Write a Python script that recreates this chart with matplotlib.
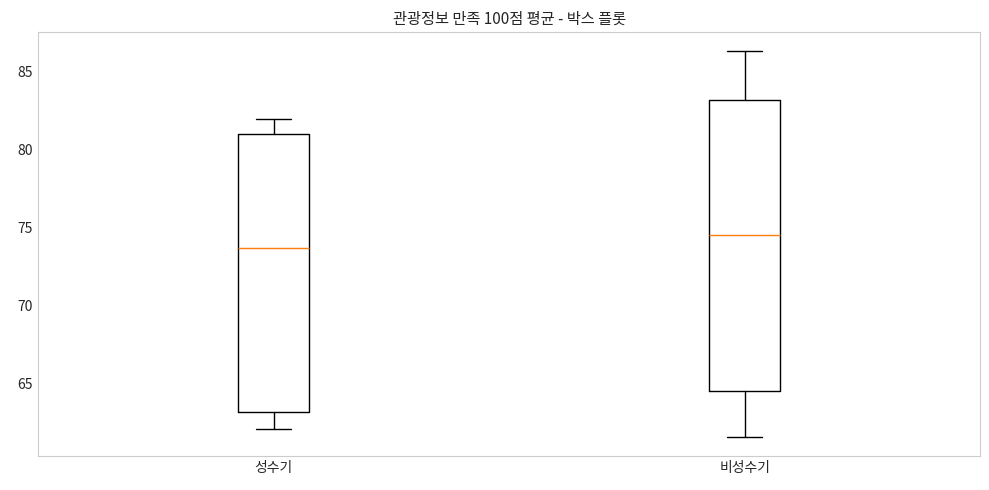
import numpy as np
import matplotlib
matplotlib.use("Agg")
import matplotlib.pyplot as plt
import seaborn as sns

sns.set_style("whitegrid")
plt.rcParams['font.family'] = ['Noto Sans CJK KR', 'DejaVu Sans']
plt.rcParams['axes.unicode_minus'] = False

# season labels and the five-number summaries
labels = ["성수기", "비성수기"]
peak_season = [62.1, 63.2, 73.7, 81.0, 81.95]
off_season = [61.6, 64.5, 74.55, 83.15, 86.3]

fig = plt.figure(figsize=(9.89, 4.9), dpi=100)
ax = fig.add_axes([0.0384, 0.0694, 0.9527, 0.8653])

ax.boxplot([peak_season, off_season], tick_labels=labels, whis=10,
           medianprops=dict(color="#ff7f0e"),
           boxprops=dict(color="black"),
           whiskerprops=dict(color="black"),
           capprops=dict(color="black"))
ax.grid(False)
ax.set_title("관광정보 만족 100점 평균 - 박스 플롯", fontsize=11)
ax.tick_params(axis="both", labelsize=10, length=0)

fig.savefig("out.png", dpi=100)
